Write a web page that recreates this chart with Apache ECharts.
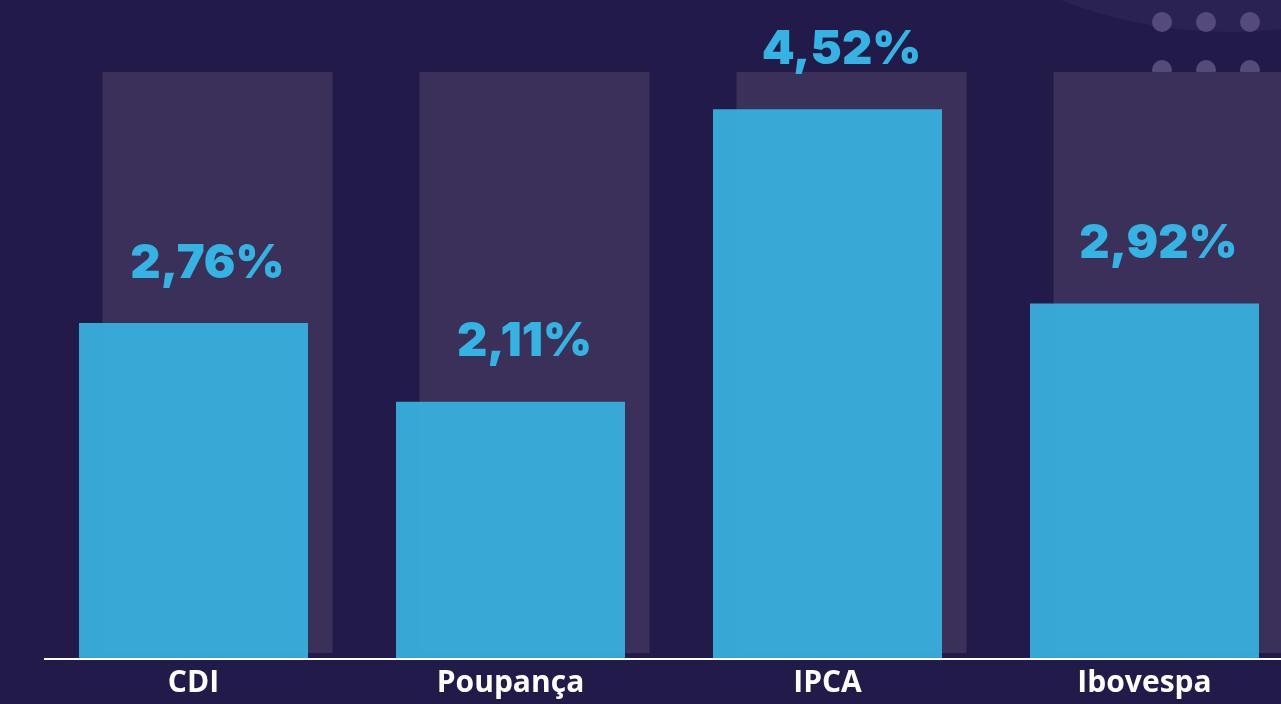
<!DOCTYPE html>
<html>
<head>
<meta charset="utf-8">
<style>
  html, body { margin: 0; padding: 0; background: #221a48; }
  #main { width: 1281px; height: 704px; }
</style>
<script src="https://cdn.jsdelivr.net/npm/echarts@6/dist/echarts.min.js"></script>
</head>
<body>
<div id="main"></div>
<script>
var categories = ['CDI', 'Poupança', 'IPCA', 'Ibovespa'];
var values = [2.76, 2.11, 4.52, 2.92];
var valueLabels = ['2,76%', '2,11%', '4,52%', '2,92%'];
var backdrop = [1, 1, 1, 1];

var myChart = echarts.init(document.getElementById('main'));

var option = {
    backgroundColor: '#221a48',
    animation: false,
    graphic: [
        { type: 'circle', z: -10, shape: { cx: 1230, cy: -435, r: 467 }, style: { fill: '#2a2252' } },
        { type: 'circle', z: -5, shape: { cx: 1162, cy: 22, r: 10 }, style: { fill: '#554b7a' } },
        { type: 'circle', z: -5, shape: { cx: 1206, cy: 22, r: 10 }, style: { fill: '#554b7a' } },
        { type: 'circle', z: -5, shape: { cx: 1250, cy: 22, r: 10 }, style: { fill: '#554b7a' } },
        { type: 'circle', z: -5, shape: { cx: 1162, cy: 70, r: 10 }, style: { fill: '#554b7a' } },
        { type: 'circle', z: -5, shape: { cx: 1206, cy: 70, r: 10 }, style: { fill: '#554b7a' } },
        { type: 'circle', z: -5, shape: { cx: 1250, cy: 70, r: 10 }, style: { fill: '#554b7a' } },
        { type: 'line', z: 50, shape: { x1: 44, y1: 659, x2: 1281, y2: 659 }, style: { stroke: '#ffffff', lineWidth: 2 } }
    ],
    grid: [
        { left: 35, width: 1268, top: 51, bottom: 46, outerBoundsMode: 'none' },
        { left: 59, width: 1268, top: 72, bottom: 51, outerBoundsMode: 'none' }
    ],
    xAxis: [
        {
            gridIndex: 0,
            type: 'category',
            data: categories,
            axisLine: { show: false },
            axisTick: { show: false },
            axisLabel: {
                color: '#ffffff',
                fontFamily: 'Open Sans',
                fontWeight: 'bold',
                fontSize: 30,
                margin: 10
            }
        },
        {
            gridIndex: 1,
            type: 'category',
            data: categories,
            axisLine: { show: false },
            axisTick: { show: false },
            axisLabel: { show: false }
        }
    ],
    yAxis: [
        { gridIndex: 0, type: 'value', min: 0, max: 5, show: false },
        { gridIndex: 1, type: 'value', min: 0, max: 1, show: false }
    ],
    series: [
        {
            type: 'bar',
            xAxisIndex: 1,
            yAxisIndex: 1,
            data: backdrop,
            barWidth: 230,
            z: 1,
            itemStyle: { color: '#3a3059' },
            silent: true
        },
        {
            type: 'bar',
            xAxisIndex: 0,
            yAxisIndex: 0,
            data: values,
            barWidth: 229,
            z: 3,
            itemStyle: { color: 'rgba(56, 170, 216, 0.98)' },
            label: {
                show: true,
                position: 'top',
                distance: 36,
                offset: [14, 0],
                color: '#35b3e3',
                fontFamily: 'Inter',
                fontWeight: 900,
                fontSize: 47,
                formatter: function (p) { return valueLabels[p.dataIndex]; }
            }
        }
    ]
};
myChart.setOption(option);
</script>
</body>
</html>
